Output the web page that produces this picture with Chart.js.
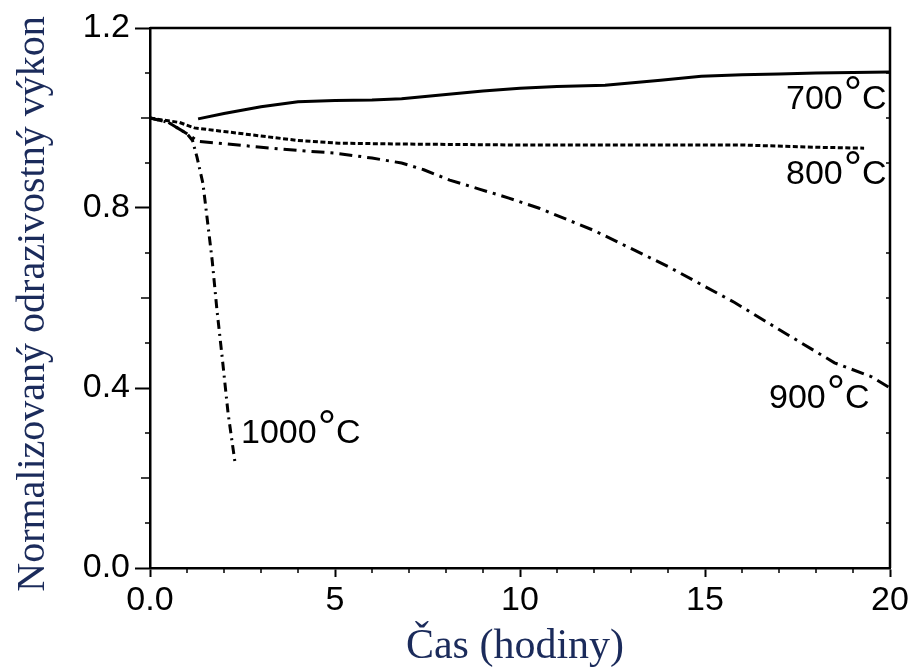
<!DOCTYPE html>
<html>
<head>
<meta charset="utf-8">
<script src="https://cdn.jsdelivr.net/npm/chart.js@4"></script>
<style>
  body { margin: 0; background: #fff; }
  canvas { display: block; }
</style>
</head>
<body>
<canvas id="chart" width="917" height="671"></canvas>
<script>
// data (time in hours, normalised reflected power)
const t700 = [1.3, 2, 3, 4, 5, 6, 6.8, 8, 9, 10, 11, 12.3, 13.8, 14.9, 16, 17, 18, 20];
const v700 = [0.998, 1.01, 1.025, 1.036, 1.039, 1.04, 1.043, 1.052, 1.06, 1.066, 1.07, 1.073, 1.084, 1.093, 1.096, 1.098, 1.1, 1.102];

const t800 = [0, 0.8, 1.2, 2, 3, 4, 5.1, 7, 10, 13, 16, 18, 19.3];
const v800 = [1.0, 0.99, 0.978, 0.97, 0.96, 0.95, 0.944, 0.942, 0.94, 0.94, 0.94, 0.935, 0.933];

const t900 = [0, 0.5, 1.0, 1.3, 2, 3, 4, 5, 6, 6.8, 7.4, 8.1, 8.9, 9.7, 10.5, 12, 14, 15.8, 17, 18.5, 19.5, 20];
const v900 = [1.0, 0.99, 0.965, 0.948, 0.943, 0.935, 0.928, 0.922, 0.911, 0.9, 0.885, 0.862, 0.842, 0.822, 0.8, 0.75, 0.67, 0.59, 0.53, 0.456, 0.425, 0.40];

const t1000 = [0, 0.5, 1.0, 1.15, 1.27, 1.43, 1.54, 1.68, 1.81, 1.95, 2.11, 2.3];
const v1000 = [1.0, 0.99, 0.965, 0.95, 0.913, 0.855, 0.78, 0.684, 0.573, 0.469, 0.344, 0.233];

const xTicks = [0, 5, 10, 15, 20];
const yTicks = [0, 0.4, 0.8, 1.2];

const xTitle = "Čas (hodiny)";
const yTitle = "Normalizovaný odrazivostný výkon";

function pts(xs, ys) {
  return xs.map((x, i) => ({ x: x, y: ys[i] }));
}

const titleColor = "#1b2b5b";

// frame, minor ticks, curve labels and axis titles
const extras = {
  id: "extras",
  afterDraw(chart) {
    const ctx = chart.ctx;
    const a = chart.chartArea;
    const xs = chart.scales.x;
    const ys = chart.scales.y;
    ctx.save();
    ctx.strokeStyle = "#000";
    ctx.lineWidth = 2.5;
    ctx.beginPath();
    ctx.moveTo(a.left, a.top);
    ctx.lineTo(a.right, a.top);
    ctx.lineTo(a.right, a.bottom);
    ctx.stroke();

    // minor ticks
    ctx.lineWidth = 1.5;
    ctx.beginPath();
    for (let i = 1; i < 20; i++) {
      if (i % 5 === 0) continue;
      const px = xs.getPixelForValue(i);
      ctx.moveTo(px, a.bottom);
      ctx.lineTo(px, a.bottom + 5);
    }
    for (let i = 1; i < 12; i++) {
      if (i % 4 === 0) continue;
      const py = ys.getPixelForValue(i / 10);
      const len = i % 2 === 0 ? 9 : 5;
      ctx.moveTo(a.left, py);
      ctx.lineTo(a.left - len, py);
      ctx.moveTo(a.right, py);
      ctx.lineTo(a.right - 4, py);
    }
    ctx.stroke();

    // labels like 700°C
    ctx.fillStyle = "#000";
    ctx.textBaseline = "alphabetic";
    ctx.textAlign = "left";
    function label(num, x, base) {
      ctx.font = "34px 'Liberation Sans'";
      ctx.fillText(num, x, base);
      let w = ctx.measureText(num).width;
      ctx.font = "46px 'Liberation Sans'";
      ctx.fillText("°", x + w + 1, base);
      let w2 = ctx.measureText("°").width;
      ctx.font = "34px 'Liberation Sans'";
      ctx.fillText("C", x + w + w2 + 1, base);
    }
    label("700", 786, 109);
    label("800", 786, 184);
    label("900", 769, 408);
    label("1000", 241, 443);

    // axis titles
    ctx.fillStyle = titleColor;
    ctx.font = "42px 'Liberation Serif'";
    ctx.textAlign = "center";
    ctx.fillText(xTitle, 515, 658);
    ctx.save();
    ctx.translate(44, 304);
    ctx.rotate(-Math.PI / 2);
    ctx.font = "40px 'Liberation Serif'";
    ctx.fillText(yTitle, 0, 0);
    ctx.restore();
    ctx.restore();
  }
};

const tickFont = { family: "'Liberation Sans'", size: 34 };

new Chart(document.getElementById("chart"), {
  type: "scatter",
  data: {
    datasets: [
      { label: "700", data: pts(t700, v700), showLine: true, borderColor: "#000", borderWidth: 3, pointRadius: 0 },
      { label: "800", data: pts(t800, v800), showLine: true, borderColor: "#000", borderWidth: 3, borderDash: [5, 2.5], pointRadius: 0 },
      { label: "900", data: pts(t900, v900), showLine: true, borderColor: "#000", borderWidth: 3, borderDash: [13, 6, 3, 6], pointRadius: 0 },
      { label: "1000", data: pts(t1000, v1000), showLine: true, borderColor: "#000", borderWidth: 3, borderDash: [9, 5, 2, 5], pointRadius: 0 }
    ]
  },
  options: {
    responsive: false,
    animation: false,
    layout: { padding: { top: 28, right: 27, left: 0, bottom: 0 } },
    plugins: { legend: { display: false }, tooltip: { enabled: false } },
    scales: {
      x: {
        type: "linear",
        min: 0,
        max: 20,
        afterBuildTicks: s => { s.ticks = xTicks.map(v => ({ value: v })); },
        afterFit: s => { s.height = 103; },
        ticks: {
          font: tickFont,
          color: "#000",
          padding: 3,
          maxRotation: 0,
          callback: v => (v === 0 ? "0.0" : String(v))
        },
        grid: { drawOnChartArea: false, tickLength: 9, tickColor: "#000", tickWidth: 2 },
        border: { display: true, color: "#000", width: 2.5 }
      },
      y: {
        min: 0,
        max: 1.2,
        afterBuildTicks: s => { s.ticks = yTicks.map(v => ({ value: v })); },
        afterFit: s => { s.width = 150; },
        ticks: {
          font: tickFont,
          color: "#000",
          padding: 5,
          callback: v => v.toFixed(1)
        },
        grid: { drawOnChartArea: false, tickLength: 15, tickColor: "#000", tickWidth: 2 },
        border: { display: true, color: "#000", width: 2.5 }
      }
    }
  },
  plugins: [extras]
});
</script>
</body>
</html>
